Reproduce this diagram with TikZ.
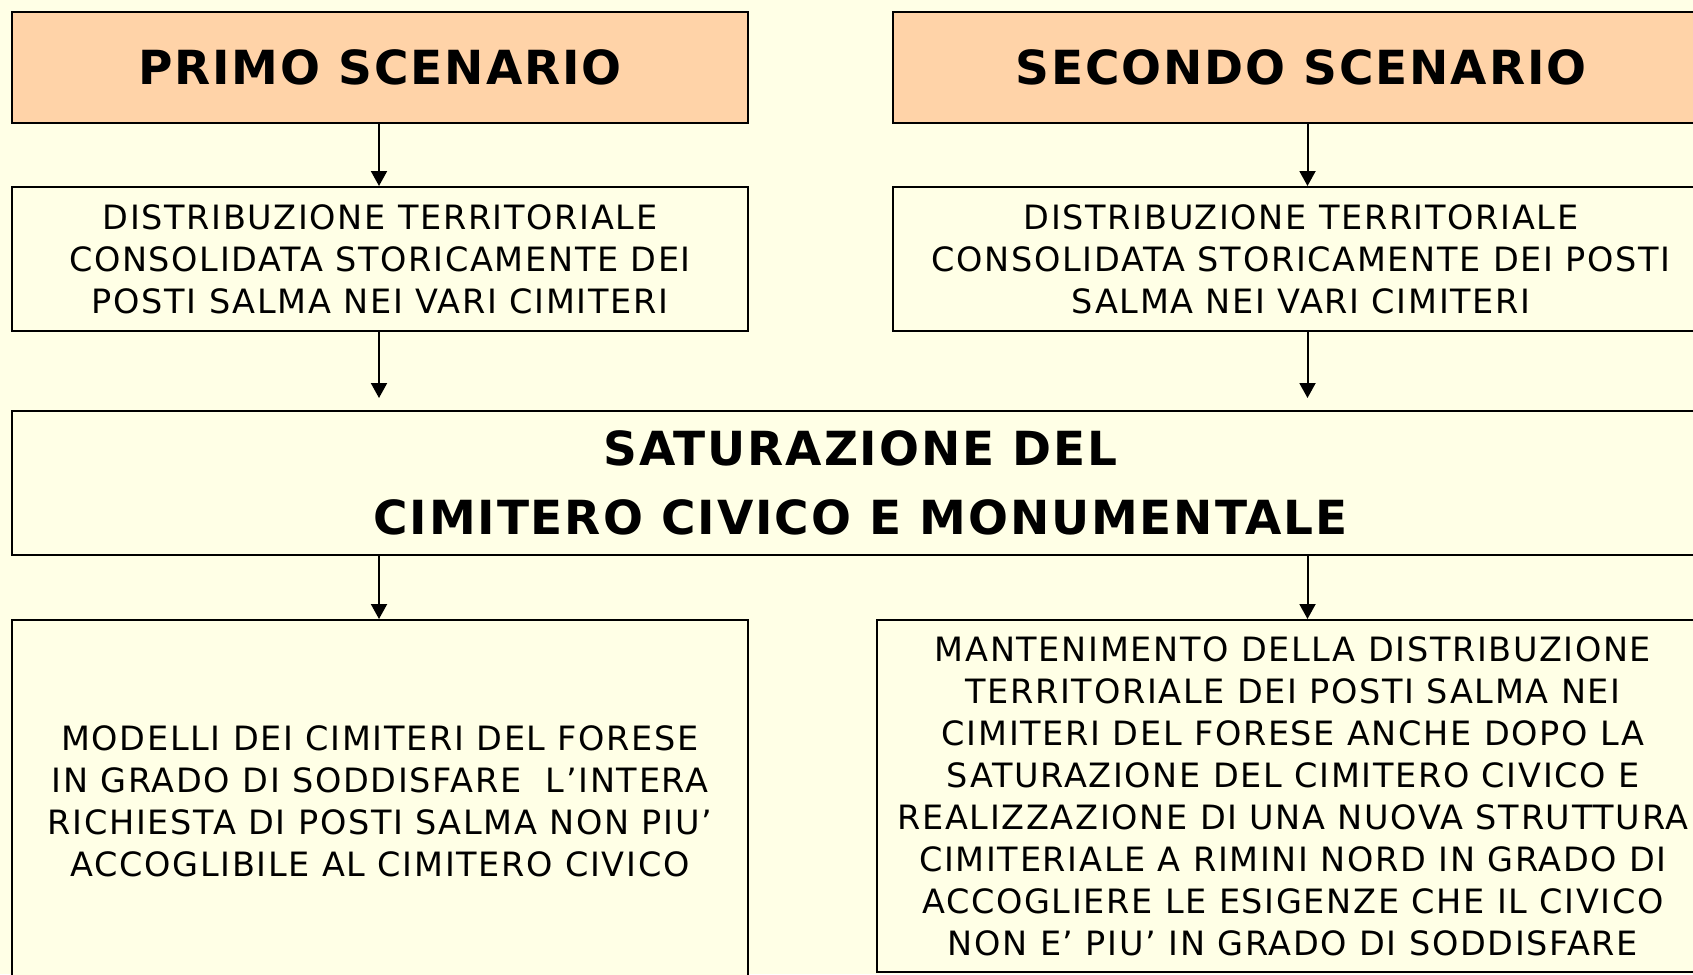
\documentclass[tikz,border=0pt]{standalone}
\usepackage{fontspec}
\setmainfont{DejaVu Sans}
\newfontfamily\regf{DejaVu Sans}[LetterSpace=5]
\newfontfamily\boldf{DejaVu Sans}[LetterSpace=4]
\usetikzlibrary{arrows.meta}
\definecolor{bgyellow}{HTML}{FFFFE6}
\definecolor{peach}{HTML}{FFD3A8}
\tikzset{
  box/.style={draw=black, line width=2pt, fill=bgyellow, anchor=north west, inner sep=0pt, align=center, font=\regf\fontsize{33.5}{42}\selectfont},
  headbox/.style={box, fill=peach, font=\boldf\bfseries\fontsize{47}{60}\selectfont},
  midbox/.style={box, font=\boldf\bfseries\fontsize{47}{69}\selectfont},
  arr/.style={line width=2pt, -{Triangle[length=15pt,width=16pt]}}
}
\begin{document}
\begin{tikzpicture}[x=1pt,y=-1pt]
\fill[bgyellow] (0,0) rectangle (1693,974);
\useasboundingbox (0,0) rectangle (1693,974);
\clip (0,0) rectangle (1693,974);
\node[headbox, minimum width=736pt, minimum height=111pt] (h1) at (11,11) {PRIMO SCENARIO};
\node[headbox, minimum width=816pt, minimum height=111pt] (h2) at (892,11) {SECONDO SCENARIO};
\node[box, minimum width=736pt, minimum height=144pt] (d1) at (11,186) {DISTRIBUZIONE TERRITORIALE\\CONSOLIDATA STORICAMENTE DEI\\POSTI SALMA NEI VARI CIMITERI};
\node[box, minimum width=816pt, minimum height=144pt] (d2) at (892,186) {DISTRIBUZIONE TERRITORIALE\\CONSOLIDATA STORICAMENTE DEI POSTI\\SALMA NEI VARI CIMITERI};
\node[midbox, minimum width=1697pt, minimum height=144pt] (s) at (11,410) {SATURAZIONE DEL\\CIMITERO CIVICO E MONUMENTALE};
\node[box, minimum width=736pt, minimum height=362pt] (m1) at (11,619) {MODELLI DEI CIMITERI DEL FORESE\\IN GRADO DI SODDISFARE \ L’INTERA\\RICHIESTA DI POSTI SALMA NON PIU’\\ACCOGLIBILE AL CIMITERO CIVICO};
\node[box, minimum width=832pt, minimum height=352pt] (m2) at (876,619) {MANTENIMENTO DELLA DISTRIBUZIONE\\TERRITORIALE DEI POSTI SALMA NEI\\CIMITERI DEL FORESE ANCHE DOPO LA\\SATURAZIONE DEL CIMITERO CIVICO E\\REALIZZAZIONE DI UNA NUOVA STRUTTURA\\CIMITERIALE A RIMINI NORD IN GRADO DI\\ACCOGLIERE LE ESIGENZE CHE IL CIVICO\\NON E’ PIU’ IN GRADO DI SODDISFARE};
\coordinate (ax) at (379,0);
\coordinate (bx) at (1307.5,0);
\coordinate (t1) at (379,398);
\coordinate (t2) at (1307.5,398);
\draw[arr] (h1.south -| ax) -- (d1.north -| ax);
\draw[arr] (h2.south -| bx) -- (d2.north -| bx);
\draw[arr] (d1.south -| ax) -- (t1);
\draw[arr] (d2.south -| bx) -- (t2);
\draw[arr] (s.south -| ax) -- (m1.north -| ax);
\draw[arr] (s.south -| bx) -- (m2.north -| bx);
\end{tikzpicture}
\end{document}
